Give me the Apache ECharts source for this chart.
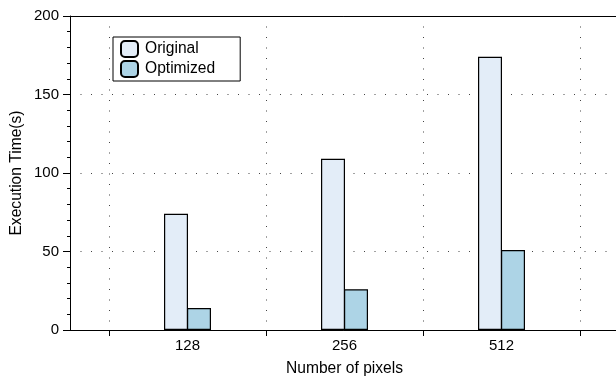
<!DOCTYPE html>
<html>
<head>
<meta charset="utf-8">
<script src="https://cdn.jsdelivr.net/npm/echarts@6/dist/echarts.min.js"></script>
<style>
  html, body { margin: 0; padding: 0; background: #fff; }
  #chart { width: 616px; height: 377px; }
</style>
</head>
<body>
<div id="chart"></div>
<script>
// Image sizes (pixels) and the measured execution times for each version
const sizes = ['128', '256', '512'];
const originalTimes = [74, 109, 174];
const optimizedTimes = [14, 26, 51];
const yTicks = [0, 50, 100, 150, 200];
const yTitle = 'Execution Time(s)';
const xTitle = 'Number of pixels';

const FONT = '"Liberation Sans", Arial, Helvetica, sans-serif';
const dotted = { color: '#444', width: 1, type: [1, 9.5] };
const nameStyle = { fontFamily: FONT, fontSize: 15.6, color: '#000' };

const chart = echarts.init(document.getElementById('chart'), null, { renderer: 'canvas' });

chart.setOption({
  animation: false,
  backgroundColor: '#fff',
  textStyle: { fontFamily: FONT, fontSize: 15, color: '#000' },
  grid: [
    // frame: y axis, bottom and top spines
    { left: 70, top: 16, width: 550, bottom: 47, containLabel: false, outerBoundsMode: 'none' },
    // category band between the outer tick marks
    { left: 109, top: 16, width: 471, bottom: 47, containLabel: false, outerBoundsMode: 'none' }
  ],
  // vertical axis title, centred on the plot height
  graphic: [{
    type: 'text',
    x: 17,
    y: 173,
    rotation: Math.PI / 2,
    style: {
      text: yTitle,
      fontFamily: FONT,
      fontSize: 15.6,
      fill: '#000',
      align: 'center',
      verticalAlign: 'middle'
    }
  }],
  legend: {
    data: ['Original', 'Optimized'],
    orient: 'vertical',
    left: 113,
    top: 37,
    icon: 'roundRect',
    itemWidth: 17,
    itemHeight: 16,
    itemGap: 2,
    padding: [3, 25, 3, 7],
    borderColor: '#000',
    borderWidth: 1,
    backgroundColor: '#fff',
    textStyle: { fontFamily: FONT, fontSize: 15.6, lineHeight: 18, color: '#000', padding: [0, 0, 0, 2] }
  },
  xAxis: [
    {
      gridIndex: 0, type: 'value', min: 0, max: 1, position: 'bottom',
      axisLine: { show: true, onZero: false, lineStyle: { color: '#000', width: 1 } },
      axisTick: { show: false }, axisLabel: { show: false }, splitLine: { show: false }
    },
    {
      gridIndex: 0, type: 'value', min: 0, max: 1, position: 'top',
      axisLine: { show: true, onZero: false, lineStyle: { color: '#000', width: 1 } },
      axisTick: { show: false }, axisLabel: { show: false }, splitLine: { show: false }
    },
    {
      gridIndex: 1, type: 'category', data: sizes, boundaryGap: true,
      name: xTitle, nameLocation: 'middle', nameGap: 31,
      nameTextStyle: nameStyle,
      axisLine: { show: false },
      axisTick: { show: true, length: 6, inside: false, alignWithLabel: false, lineStyle: { color: '#000', width: 1 } },
      axisLabel: { margin: 8, fontFamily: FONT, fontSize: 15, color: '#000' },
      splitLine: { show: true, lineStyle: dotted }
    }
  ],
  yAxis: [
    {
      gridIndex: 0, type: 'value', min: yTicks[0], max: yTicks[yTicks.length - 1], interval: 50,
      axisLine: { show: true, onZero: false, lineStyle: { color: '#000', width: 1 } },
      axisTick: { show: true, length: 7, lineStyle: { color: '#000', width: 1 } },
      minorTick: { show: true, splitNumber: 5, length: 3, lineStyle: { color: '#000', width: 1 } },
      axisLabel: { margin: 11, fontFamily: FONT, fontSize: 15, color: '#000' },
      splitLine: { show: true, lineStyle: dotted }
    },
    {
      gridIndex: 1, type: 'value', min: yTicks[0], max: yTicks[yTicks.length - 1], interval: 50,
      show: false, splitLine: { show: false }
    }
  ],
  series: [
    {
      name: 'Original', type: 'bar', xAxisIndex: 2, yAxisIndex: 1,
      data: originalTimes, barWidth: 24, barGap: '-4.2%',
      itemStyle: { color: '#E3EDF8', borderColor: '#000', borderWidth: 1.2 }
    },
    {
      name: 'Optimized', type: 'bar', xAxisIndex: 2, yAxisIndex: 1,
      data: optimizedTimes, barWidth: 24, barGap: '-4.2%',
      itemStyle: { color: '#ADD4E6', borderColor: '#000', borderWidth: 1.2 }
    }
  ]
});
</script>
</body>
</html>
